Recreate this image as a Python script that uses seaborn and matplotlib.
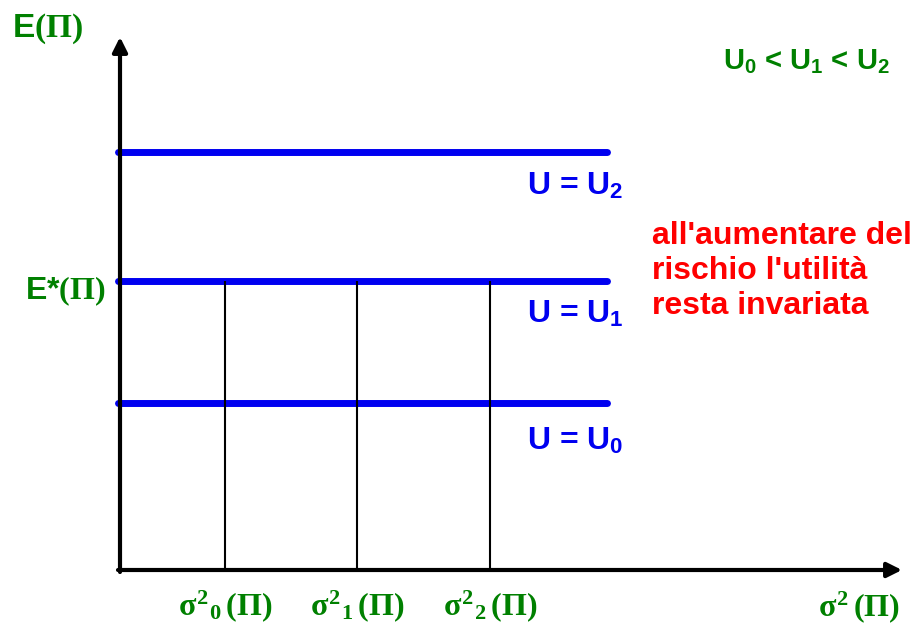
import numpy as np
import pandas as pd
import matplotlib
matplotlib.use("Agg")
import matplotlib.pyplot as plt
import seaborn as sns

# dati (unità arbitrarie, origine degli assi = 0,0)
livelli_U = ["U0", "U1", "U2"]
valori_U = [167, 289, 418]          # E(Pi) di ogni curva di indifferenza
x_inizio, x_fine = -2, 487          # estensione delle rette orizzontali
sigma_pos = [105, 237, 370]         # sigma^2_0, sigma^2_1, sigma^2_2
E_star = 289
sigma_label = [r"$\sigma^2{}_0\,(\Pi)$", r"$\sigma^2{}_1\,(\Pi)$", r"$\sigma^2{}_2\,(\Pi)$"]
U_label = [r"U = U$_{\mathsf{0}}$", r"U = U$_{\mathsf{1}}$", r"U = U$_{\mathsf{2}}$"]

sns.set_style("white")
plt.rcParams["font.family"] = ["Liberation Sans", "DejaVu Sans"]
plt.rcParams["mathtext.fontset"] = "custom"
plt.rcParams["mathtext.rm"] = "Liberation Serif:bold"
plt.rcParams["mathtext.it"] = "Liberation Serif:bold"
plt.rcParams["mathtext.bf"] = "Liberation Serif:bold"
plt.rcParams["mathtext.sf"] = "Liberation Sans:bold"

verde = "#008000"
blu = "#0000f0"

fig = plt.figure(figsize=(9.19, 6.25), dpi=100)
ax = fig.add_axes([0, 0, 1, 1])
ax.set_xlim(-120, 799)
ax.set_ylim(-55, 570)
ax.axis("off")

# rette U = cost
df = pd.DataFrame({
    "x": [x_inizio, x_fine] * 3,
    "y": np.repeat(valori_U, 2),
    "U": np.repeat(livelli_U, 2),
})
sns.lineplot(data=df, x="x", y="y", units="U", estimator=None, color=blu,
             lw=5, solid_capstyle="round", ax=ax, legend=False)

# verticali
ax.vlines(sigma_pos, 0, E_star, color="black", lw=1.5)

# assi con frecce
ax.annotate("", xy=(0, 533), xytext=(0, -2),
            arrowprops=dict(arrowstyle="-|>", lw=3, color="black", mutation_scale=22,
                            shrinkA=0, shrinkB=0))
ax.annotate("", xy=(782, 0), xytext=(-2, 0),
            arrowprops=dict(arrowstyle="-|>", lw=3, color="black", mutation_scale=22,
                            shrinkA=0, shrinkB=0))

# testi
ax.text(-108, 541, r"E$(\Pi)$", color=verde, fontsize=24, fontweight="bold",
        va="center", ha="left")
ax.text(-95, 279, r"E*$(\Pi)$", color=verde, fontsize=23, fontweight="bold",
        va="center", ha="left")
ax.text(686, 508, r"U$_{\mathsf{0}}$ < U$_{\mathsf{1}}$ < U$_{\mathsf{2}}$", color=verde,
        fontsize=21, fontweight="bold", va="center", ha="center")
for xs, lab in zip(sigma_pos, sigma_label):
    ax.text(xs, -36, lab, color=verde, fontsize=23, va="center", ha="center")
ax.text(739, -37, r"$\sigma^2\,(\Pi)$", color=verde, fontsize=23, va="center", ha="center")

U_pos_y = [129, 256, 384]
for yy, lab in zip(U_pos_y, U_label):
    ax.text(407, yy, lab, color=blu, fontsize=23, fontweight="bold", va="center", ha="left")

ax.text(532, 349, "all'aumentare del\nrischio l'utilità\nresta invariata", color="red",
        fontsize=23, fontweight="bold", va="top", ha="left", linespacing=1.22)

fig.savefig("out.png", dpi=100)
